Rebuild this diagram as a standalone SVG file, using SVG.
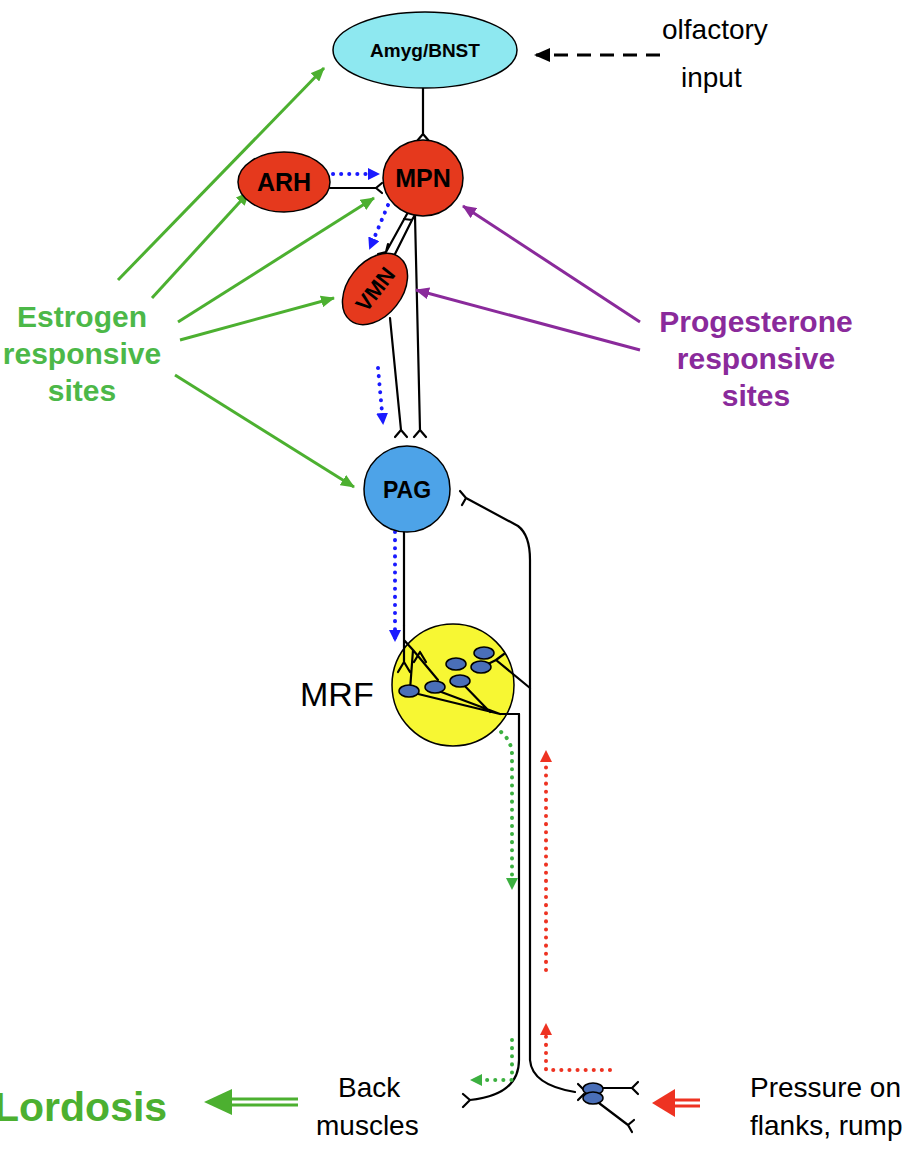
<svg xmlns="http://www.w3.org/2000/svg" width="910" height="1150" viewBox="0 0 910 1150">
<style>
.t{font-family:"Liberation Sans",Arial,sans-serif}
.nl{font-family:"Liberation Sans",Arial,sans-serif;font-weight:bold;text-anchor:middle;fill:#000}
.ax{fill:none;stroke:#000;stroke-width:2.2;stroke-linecap:round;stroke-linejoin:round}
.g{stroke:#4cb030;stroke-width:3;fill:none;marker-end:url(#ag)}
.p{stroke:#8a2a9b;stroke-width:3;fill:none;marker-end:url(#ap)}
.bd{stroke:#1a1aff;stroke-width:4;stroke-dasharray:0.1 8;stroke-linecap:round;fill:none;marker-end:url(#ab)}
.gd{stroke:#3cb040;stroke-width:4;stroke-dasharray:0.1 8;stroke-linecap:round;fill:none;marker-end:url(#agd)}
.rd{stroke:#ee3322;stroke-width:4;stroke-dasharray:0.1 8;stroke-linecap:round;fill:none;marker-end:url(#ar)}
.blob{fill:#4a6fb8;stroke:#000;stroke-width:1.5}
</style>
<defs>
<marker id="ag" markerWidth="14" markerHeight="12" refX="13" refY="6" orient="auto" markerUnits="userSpaceOnUse" viewBox="0 0 14 12"><path d="M0,0L14,6L0,12z" fill="#4cb030"/></marker>
<marker id="ap" markerWidth="14" markerHeight="12" refX="13" refY="6" orient="auto" markerUnits="userSpaceOnUse" viewBox="0 0 14 12"><path d="M0,0L14,6L0,12z" fill="#8a2a9b"/></marker>
<marker id="ab" markerWidth="12" markerHeight="12" refX="10" refY="6" orient="auto" markerUnits="userSpaceOnUse" viewBox="0 0 12 12"><path d="M0,0L12,6L0,12z" fill="#1a1aff"/></marker>
<marker id="agd" markerWidth="12" markerHeight="12" refX="10" refY="6" orient="auto" markerUnits="userSpaceOnUse" viewBox="0 0 12 12"><path d="M0,0L12,6L0,12z" fill="#3cb040"/></marker>
<marker id="ar" markerWidth="12" markerHeight="12" refX="10" refY="6" orient="auto" markerUnits="userSpaceOnUse" viewBox="0 0 12 12"><path d="M0,0L12,6L0,12z" fill="#ee3322"/></marker>
<marker id="ak" markerWidth="16" markerHeight="14" refX="14" refY="7" orient="auto" markerUnits="userSpaceOnUse" viewBox="0 0 16 14"><path d="M0,0L16,7L0,14z" fill="#000"/></marker>
</defs>
<rect width="910" height="1150" fill="#fff"/>

<g id="connectors">
<path class="ax" d="M423,88V134M423,134l-6,7M423,134l6,7"/>
<path class="ax" d="M330,188H376M376,188l6,-5M376,188l6,5"/>
<path class="ax" d="M407,214L386,252M386,252l-8,2M386,252l2,-8"/>
<path class="ax" d="M393,258L412,220M412,220l-8,-1M412,220l4,-7"/>
<path class="ax" d="M415,216L420,430M420,430l-6,7M420,430l6,7"/>
<path class="ax" d="M390,318L401,430M401,430l-6,7M401,430l6,7"/>
<path class="ax" d="M466,498L518,526Q530,535 530,560V1060Q532,1085 575,1092M466,498l-6,-7M466,498l-4,7"/>
<path class="ax" d="M404,532V625"/>
<path class="ax" d="M519,714V1060Q519,1095 470,1100M470,1100l-7,-6M470,1100l-7,7"/>
<path class="ax" d="M600,1088H632M632,1088l6,-6M632,1088l6,6M595,1100L628,1125M628,1125l6,-5M628,1125l4,7M584,1090l-6,-6M584,1094l-6,6"/>
<path class="bd" d="M333,174H378"/>
<path class="bd" d="M388,205L370,248"/>
<path class="bd" d="M378,368L383,423"/>
<path class="bd" d="M395,532V640"/>
<path class="gd" d="M448,714Q512,722 512,755V888"/>
<path class="gd" d="M512,1040V1080H472"/>
<path class="rd" d="M546,970V752"/>
<path class="rd" d="M610,1070H546V1025"/>
<path d="M660,55H536" stroke="#000" stroke-width="3" stroke-dasharray="14 9" marker-end="url(#ak)"/>
<path class="g" d="M118,280L324,68"/>
<path class="g" d="M152,298L249,192"/>
<path class="g" d="M178,322L374,198"/>
<path class="g" d="M180,340L334,298"/>
<path class="g" d="M175,375L354,487"/>
<path class="p" d="M640,322L463,206"/>
<path class="p" d="M640,350L416,290"/>
<path d="M700,1100H670M700,1106H670" stroke="#ee3322" stroke-width="3"/>
<path d="M675,1089L652,1103L675,1117z" fill="#ee3322"/>
<path d="M298,1099H228M298,1105H228" stroke="#4cb030" stroke-width="3"/>
<path d="M232,1089L204,1102L232,1115z" fill="#4cb030"/>
</g>

<g id="amyg"><ellipse cx="425" cy="50" rx="92" ry="38" fill="#8ee8f0" stroke="#000" stroke-width="1.5"/><text class="nl" x="425" y="57" font-size="19">Amyg/BNST</text></g>
<g id="arh"><ellipse cx="284" cy="182" rx="46" ry="30" fill="#e5391d" stroke="#000" stroke-width="1.5"/><text class="nl" x="284" y="191" font-size="25">ARH</text></g>
<g id="mpn"><ellipse cx="423" cy="178" rx="40" ry="38" fill="#e5391d" stroke="#000" stroke-width="1.5"/><text class="nl" x="423" y="187" font-size="25">MPN</text></g>
<g id="vmn"><ellipse cx="375" cy="289" rx="40" ry="27" transform="rotate(-52 375 289)" fill="#e5391d" stroke="#000" stroke-width="1.5"/><text class="nl" x="375" y="297" font-size="22" transform="rotate(-52 375 289)">VMN</text></g>
<g id="pag"><circle cx="407" cy="489" r="43" fill="#4da3e8" stroke="#000" stroke-width="1.5"/><text class="nl" x="407" y="498" font-size="23">PAG</text></g>
<g id="mrf"><circle cx="453" cy="685" r="61" fill="#f7f733" stroke="#000" stroke-width="1.5"/>
<path class="ax" d="M404,625V640L413,650M404,640L404,662M413,650L410,690M413,650L438,680M404,662l-6,10M404,662l6,10M420,652l-6,10M420,652l6,10"/>
<path class="ax" d="M410,692L500,714H519M436,690L500,714M460,681L490,712M496,660L530,688M496,660l8,-6M496,660l-8,4"/>
<ellipse class="blob" cx="409" cy="691" rx="10" ry="6"/><ellipse class="blob" cx="435" cy="687" rx="10" ry="6"/><ellipse class="blob" cx="460" cy="681" rx="10" ry="6"/><ellipse class="blob" cx="456" cy="664" rx="10" ry="6"/><ellipse class="blob" cx="481" cy="667" rx="10" ry="6"/><ellipse class="blob" cx="484" cy="653" rx="10" ry="6"/></g>
<g id="sensory"><ellipse class="blob" cx="593" cy="1089" rx="10" ry="6"/><ellipse class="blob" cx="593" cy="1098" rx="10" ry="6"/></g>

<g id="labels" class="t">
<text x="662" y="39" font-size="28">olfactory</text>
<text x="681" y="87" font-size="28">input</text>
<g font-weight="bold" font-size="30" fill="#4cb848" text-anchor="middle"><text x="82" y="327">Estrogen</text><text x="82" y="364">responsive</text><text x="82" y="401">sites</text></g>
<g font-weight="bold" font-size="30" fill="#8a2a9b" text-anchor="middle"><text x="756" y="332">Progesterone</text><text x="756" y="369">responsive</text><text x="756" y="406">sites</text></g>
<text x="300" y="706" font-size="34">MRF</text>
<text x="338" y="1097" font-size="28">Back</text>
<text x="316" y="1135" font-size="28">muscles</text>
<text x="-6" y="1121" font-size="41" font-weight="bold" fill="#4cb030">Lordosis</text>
<text x="750" y="1097" font-size="28">Pressure on</text>
<text x="750" y="1135" font-size="28">flanks, rump</text>
</g>
</svg>
